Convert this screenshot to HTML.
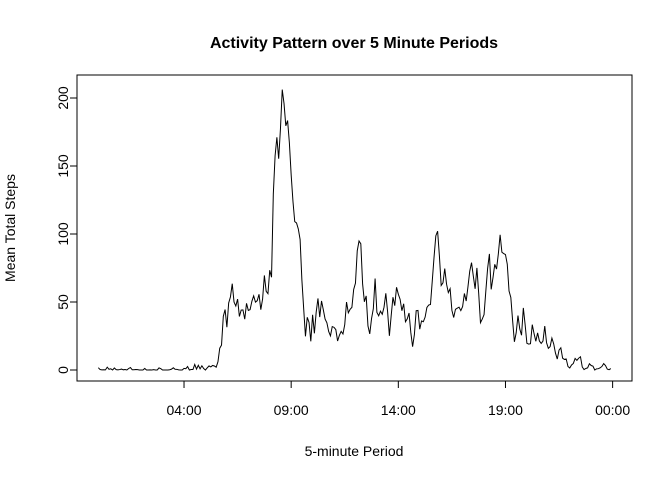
<!DOCTYPE html>
<html><head><meta charset="utf-8">
<style>
html,body{margin:0;padding:0;background:#fff;}
svg{display:block;font-family:"Liberation Sans",Arial,sans-serif;}
</style></head>
<body>
<svg id="chart" width="672" height="480" viewBox="0 0 672 480">
<text x="354" y="48" text-anchor="middle" font-size="16" font-weight="bold">Activity Pattern over 5 Minute Periods</text>
<rect x="77" y="75" width="555" height="306" fill="none" stroke="#000" stroke-width="1"/>
<text x="354" y="456" text-anchor="middle" font-size="14">5-minute Period</text>
<text transform="translate(15,228) rotate(-90)" text-anchor="middle" font-size="14">Mean Total Steps</text>
<g id="axes"></g>
<path id="series" fill="none" stroke="#000" stroke-width="1"/>
</svg>
<script>
const yTicks = [0, 50, 100, 150, 200];
const xTickMinutes = [240, 540, 840, 1140, 1440];
const xTickLabels = ["04:00", "09:00", "14:00", "19:00", "00:00"];
const meanSteps = [
1.72,0.34,0.13,0.15,0.08,2.09,0.53,0.87,0,1.47,0.30,0.13,
0.32,0.68,0.15,0.34,0,1.11,1.83,0.17,0.17,0.38,0.26,0,
0,0,1.13,0,0,0.13,0,0.23,0,0,1.55,0.94,
0,0,0,0,0.21,0.62,1.62,0.58,0.49,0.08,0,0,
1.19,0.94,2.57,0,0.34,0.36,4.11,0.66,3.49,0.83,3.11,1.11,
0,1.57,3.0,2.25,3.32,2.96,2.09,6.06,16.02,18.34,39.45,44.49,
31.49,49.26,53.77,63.45,49.96,47.08,52.15,39.34,44.02,44.17,37.36,49.04,
43.81,44.38,50.51,54.51,49.92,50.98,55.68,44.32,52.26,69.55,57.85,56.15,
73.38,68.21,129.43,157.53,171.15,155.40,177.30,206.17,195.92,179.57,183.40,167.02,
143.45,124.04,109.11,108.11,103.72,95.96,66.21,45.23,24.79,38.75,34.98,21.06,
40.57,26.98,42.42,52.66,38.92,50.79,44.28,37.42,34.70,28.34,25.09,31.94,
31.36,29.68,21.32,25.55,28.38,26.47,33.43,49.98,42.04,44.60,46.04,59.19,
63.87,87.70,94.85,92.77,63.40,50.17,54.47,32.42,26.53,37.74,45.06,67.28,
42.34,39.88,43.26,40.98,46.25,56.43,42.75,25.13,39.96,53.55,47.32,60.81,
55.75,51.96,43.58,48.70,35.47,37.55,41.85,27.51,17.11,26.08,43.62,43.77,
30.02,36.08,35.49,38.85,45.96,47.75,48.13,65.32,82.91,98.66,102.11,83.96,
62.13,64.13,74.55,63.17,56.91,59.77,43.87,38.57,44.66,45.45,46.21,43.68,
46.62,56.30,50.72,61.23,72.72,78.94,68.94,59.66,75.09,56.51,34.77,37.45,
40.68,58.02,74.70,85.32,59.26,67.77,77.70,74.25,85.34,99.45,86.58,85.60,
84.87,77.83,58.04,53.36,36.32,20.72,27.40,40.02,30.21,25.55,45.66,33.53,
19.62,19.02,19.34,33.34,26.81,21.17,27.30,21.34,19.55,21.32,32.30,20.15,
15.94,17.23,23.45,19.25,12.45,8.02,14.66,16.30,8.68,7.79,8.13,2.62,
1.45,3.68,4.81,8.51,7.08,8.70,9.75,2.21,0.32,1.11,1.60,4.60,
3.30,2.85,0,0.83,0.96,1.58,2.60,4.70,3.30,0.64,0.23,1.08
];
const intervalMinutes = meanSteps.map((_, i) => i * 5);

function xScale(m){ return 98.3 + m * (21.43/60); }
function yScale(v){ return 370 - v * 1.36; }

const NS = "http://www.w3.org/2000/svg";
const axes = document.getElementById("axes");
function mk(tag, attrs){ const e = document.createElementNS(NS, tag); for (const k in attrs) e.setAttribute(k, attrs[k]); axes.appendChild(e); return e; }

mk("line",{x1:77,x2:77,y1:yScale(yTicks[0]),y2:yScale(yTicks[yTicks.length-1]),stroke:"#000"});
yTicks.forEach(v=>{
  const y = yScale(v);
  const t = mk("line",{x1:70,x2:77,y1:y,y2:y,stroke:"#000"});
  
  
  const l = mk("text",{transform:`translate(68,${y}) rotate(-90)`,"text-anchor":"middle","font-size":"14"});
  
  
  l.textContent = v;
});
mk("line",{x1:xScale(xTickMinutes[0]),x2:xScale(xTickMinutes[xTickMinutes.length-1]),y1:381,y2:381,stroke:"#000"});
xTickMinutes.forEach((m,i)=>{
  const x = xScale(m);
  const t = mk("line",{x1:x,x2:x,y1:381,y2:388,stroke:"#000"});
  
  
  const l = mk("text",{x:x,y:415,"text-anchor":"middle","font-size":"14"});
  
  
  l.textContent = xTickLabels[i];
});

let d = "";
meanSteps.forEach((v,i)=>{ d += (i?"L":"M") + xScale(intervalMinutes[i]).toFixed(2) + "," + yScale(v).toFixed(2); });
document.getElementById("series").setAttribute("d", d);
</script>
</body></html>
